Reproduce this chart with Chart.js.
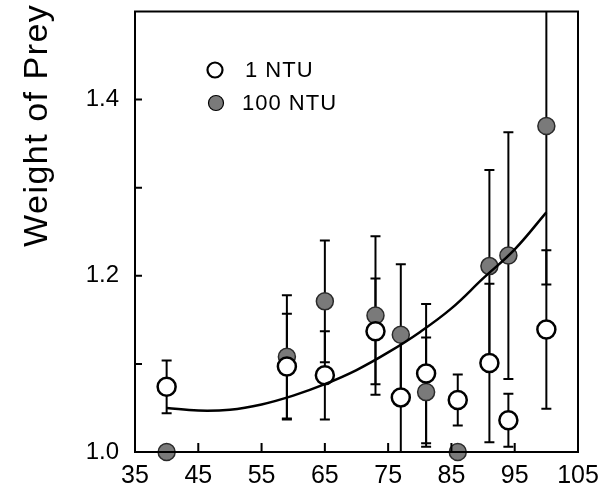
<!DOCTYPE html>
<html>
<head>
<meta charset="utf-8">
<script src="https://cdn.jsdelivr.net/npm/chart.js@4"></script>
<style>
  body { margin: 0; background: #fff; }
</style>
</head>
<body>
<canvas id="myChart" width="603" height="489"></canvas>
<script>
// turbidity data
const xVals = [40, 59, 65, 73, 77, 81, 86, 91, 94, 100];
const ntu1 = [1.074, 1.097, 1.087, 1.137, 1.062, 1.089, 1.059, 1.101, 1.036, 1.139];
const ntu1Err = [0.03, 0.06, 0.05, 0.06, 0.075, 0.079, 0.029, 0.09, 0.03, 0.09];
const ntu100 = [1.0, 1.108, 1.171, 1.155, 1.133, 1.068, 1.0, 1.211, 1.223, 1.37];
const ntu100Err = [0, 0.07, 0.069, 0.09, 0.08, 0.062, 0, 0.109, 0.14, 0.18];

// fitted curve, read at a few points
const fitX = [40, 45, 50, 55, 60, 65, 70, 75, 80, 85, 90, 95, 100];
const fitY = [1.050, 1.047, 1.048, 1.054, 1.064, 1.077, 1.093, 1.113, 1.136, 1.163, 1.197, 1.230, 1.272];

const xTickVals = [45, 55, 65, 75, 85, 95];
const yTickVals = [1.1, 1.2, 1.3, 1.4];
const legendLabels = ['1 NTU', '100 NTU'];
const yTitle = 'Weight of Prey';

const FONT = "'Liberation Sans', Arial, sans-serif";
const fillGray = '#7a7a7a';

const toPts = (xs, ys) => xs.map((x, i) => ({ x: x, y: ys[i] }));

// error bars, frame, inward ticks, legend and y title
const extras = {
  id: 'extras',
  beforeDatasetsDraw(chart) {
    const ctx = chart.ctx;
    const xs = chart.scales.x, ys = chart.scales.y;
    const area = chart.chartArea;
    ctx.save();
    ctx.beginPath();
    ctx.rect(area.left, area.top, area.right - area.left, area.bottom - area.top);
    ctx.clip();
    ctx.strokeStyle = '#000';
    ctx.lineWidth = 2;
    const bars = (vals, errs) => {
      vals.forEach((v, i) => {
        if (!errs[i]) return;
        const px = xs.getPixelForValue(xVals[i]);
        const top = ys.getPixelForValue(v + errs[i]);
        const bot = ys.getPixelForValue(v - errs[i]);
        ctx.beginPath();
        ctx.moveTo(px, top); ctx.lineTo(px, bot);
        ctx.moveTo(px - 5, top); ctx.lineTo(px + 5, top);
        ctx.moveTo(px - 5, bot); ctx.lineTo(px + 5, bot);
        ctx.stroke();
      });
    };
    bars(ntu1, ntu1Err);
    bars(ntu100, ntu100Err);
    ctx.restore();
  },
  afterDraw(chart) {
    const ctx = chart.ctx;
    const xs = chart.scales.x, ys = chart.scales.y;
    const a = chart.chartArea;
    ctx.save();
    ctx.strokeStyle = '#000';
    ctx.lineWidth = 2;
    ctx.strokeRect(a.left, a.top, a.right - a.left, a.bottom - a.top);

    ctx.beginPath();
    xTickVals.forEach(v => {
      const px = xs.getPixelForValue(v);
      ctx.moveTo(px, a.bottom); ctx.lineTo(px, a.bottom - 9);
    });
    yTickVals.forEach(v => {
      const py = ys.getPixelForValue(v);
      ctx.moveTo(a.left, py); ctx.lineTo(a.left + 7, py);
    });
    ctx.stroke();

    // legend
    ctx.font = '22px ' + FONT;
    ctx.letterSpacing = '1px';
    ctx.fillStyle = '#000';
    ctx.textBaseline = 'middle';
    ctx.lineWidth = 2.2;
    ctx.beginPath();
    ctx.arc(215, 70, 7.5, 0, Math.PI * 2);
    ctx.fillStyle = '#fff'; ctx.fill(); ctx.stroke();
    ctx.fillStyle = '#000';
    ctx.fillText(legendLabels[0], 245, 71);
    ctx.beginPath();
    ctx.arc(216, 103, 7.5, 0, Math.PI * 2);
    ctx.fillStyle = fillGray; ctx.fill();
    ctx.lineWidth = 1.2; ctx.stroke();
    ctx.fillStyle = '#000';
    ctx.fillText(legendLabels[1], 242, 104);

    // y axis title
    ctx.translate(47, 247);
    ctx.rotate(-Math.PI / 2);
    ctx.font = '34px ' + FONT;
    ctx.textBaseline = 'alphabetic';
    ctx.textAlign = 'left';
    ctx.letterSpacing = '1.5px';
    ctx.fillText(yTitle, 0, 0);
    ctx.restore();
  }
};

const ctx = document.getElementById('myChart').getContext('2d');
const myChart = new Chart(ctx, {
  type: 'scatter',
  data: {
    datasets: [
      {
        label: 'fit',
        data: toPts(fitX, fitY),
        showLine: true,
        borderColor: '#000',
        borderWidth: 2.5,
        tension: 0.4,
        pointRadius: 0,
        order: 0
      },
      {
        label: legendLabels[0],
        data: toPts(xVals, ntu1),
        pointRadius: 9,
        pointBackgroundColor: '#fff',
        pointBorderColor: '#000',
        pointBorderWidth: 2.5,
        clip: false,
        order: 1
      },
      {
        label: legendLabels[1],
        data: toPts(xVals, ntu100),
        pointRadius: 8.5,
        pointBackgroundColor: fillGray,
        pointBorderColor: '#2a2a2a',
        pointBorderWidth: 1.5,
        clip: false,
        order: 2
      }
    ]
  },
  options: {
    responsive: false,
    animation: false,
    layout: { padding: { top: 9, right: 25, left: 0, bottom: 0 } },
    plugins: {
      legend: { display: false },
      tooltip: { enabled: false }
    },
    scales: {
      x: {
        type: 'linear',
        min: 35,
        max: 105,
        afterFit: (s) => { s.height = 37; s.paddingLeft = 0; s.paddingRight = 0; },
        grid: { display: false, drawTicks: false },
        border: { display: false },
        ticks: {
          stepSize: 10,
          padding: 9,
          color: '#000',
          font: { family: FONT, size: 25 }
        }
      },
      y: {
        min: 1.0,
        max: 1.5,
        afterFit: (s) => { s.width = 135; s.paddingTop = 0; s.paddingBottom = 0; },
        grid: { display: false, drawTicks: false },
        border: { display: false },
        ticks: {
          stepSize: 0.1,
          padding: 16,
          color: '#000',
          font: { family: FONT, size: 24 },
          callback: (v) => {
            const k = Math.round(v * 10);
            return (k % 2 === 0 && k < 15) ? (k / 10).toFixed(1) : '';
          }
        }
      }
    }
  },
  plugins: [extras]
});
</script>
</body>
</html>
